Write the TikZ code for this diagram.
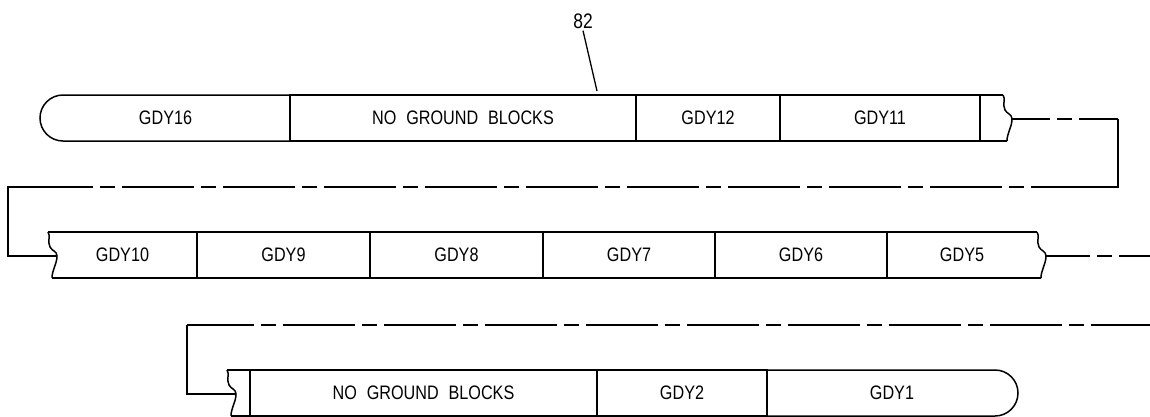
\documentclass[tikz,border=0pt]{standalone}
\usepackage{fontspec}
\newfontfamily\cadfont[FakeStretch=0.83,WordSpace=2.2]{Liberation Sans}
\usetikzlibrary{positioning,shapes.misc}
\tikzset{
  cell/.style={minimum height=46pt,inner sep=0pt,outer sep=0pt,
    font=\cadfont\fontsize{19.5}{20}\selectfont},
  cellbox/.style={cell,draw,line width=1.5pt},
  endcap/.style={cellbox,rounded rectangle},
  bar/.style={line width=1.5pt},
  centerline/.style={line width=1.5pt,dash pattern=on 72pt off 7pt on 15pt off 7pt},
  brk/.pic={
    \draw[bar] (0,0) .. controls (3,4) and (-1,9) .. (2,15)
      .. controls (4,19) and (9,19) .. (9,24)
      .. controls (9,32) and (4,38) .. (4,46);
    \coordinate (-tip) at (9,24);
    \coordinate (-bot) at (4,46);
  }
}
\begin{document}
\begin{tikzpicture}[x=1pt,y=-1pt]
  \useasboundingbox (0,0) rectangle (1150,416);

  % top bar
  \node[endcap,rounded rectangle right arc=none,anchor=west,minimum width=250pt] (t1) at (40,118) {GDY16};
  \node[cellbox,minimum width=346pt,right=0pt of t1] (t2) {NO GROUND BLOCKS};
  \node[cellbox,minimum width=144pt,right=0pt of t2] (t3) {GDY12};
  \node[cellbox,minimum width=200pt,right=0pt of t3] (t4) {GDY11};
  \node[cell,minimum width=23pt,right=0pt of t4] (t5) {};
  \pic (tw) at (t5.north east) {brk};
  \draw[bar] (t4.north east) -- (t5.north east);
  \draw[bar] (t4.south east) -- (tw-bot);

  % middle bar
  \node[cell,anchor=west,minimum width=149pt] (m1) at (48,255) {GDY10};
  \node[cellbox,minimum width=173pt,right=0pt of m1] (m2) {GDY9};
  \node[cellbox,minimum width=173pt,right=0pt of m2] (m3) {GDY8};
  \node[cellbox,minimum width=172pt,right=0pt of m3] (m4) {GDY7};
  \node[cellbox,minimum width=172pt,right=0pt of m4] (m5) {GDY6};
  \node[cell,minimum width=150pt,right=0pt of m5] (m6) {GDY5};
  \pic (mw) at (m1.north west) {brk};
  \pic (me) at (m6.north east) {brk};
  \draw[bar] (m1.north west) -- (m6.north east);
  \draw[bar] (mw-bot) -- (me-bot);

  % bottom bar
  \node[cell,anchor=west,minimum width=23pt] (b1) at (227,393) {};
  \node[cellbox,minimum width=347pt,right=0pt of b1] (b2) {NO GROUND BLOCKS};
  \node[cellbox,minimum width=170pt,right=0pt of b2] (b3) {GDY2};
  \node[endcap,rounded rectangle left arc=none,minimum width=251pt,right=0pt of b3] (b4) {GDY1};
  \pic (bw) at (b1.north west) {brk};
  \draw[bar] (b1.north west) -- (b1.north east);
  \draw[bar] (bw-bot) -- (b1.south east);

  % reference numeral
  \node[font=\cadfont\fontsize{21}{22}\selectfont,inner sep=2pt] (n82) at (583,21) {82};
  \coordinate (n82tip) at (597,91);
  \draw[line width=1.3pt] (n82.south) -- (n82tip);

  % continuation lines
  \coordinate (r1) at (1118,187);
  \coordinate (r1s) at (1096,187);
  \coordinate (l1) at (8,187);
  \coordinate (l1s) at (22,187);
  \coordinate (r2) at (1150,325);
  \coordinate (l2) at (187,325);
  \draw[centerline,dash phase=34pt] (tw-tip) -- (tw-tip -| r1);
  \draw[bar] (tw-tip -| r1) -- (r1) -- (r1s);
  \draw[centerline,dash phase=1pt] (l1s) -- (r1s);
  \draw[bar] (l1s) -- (l1) |- (mw-tip);
  \draw[centerline,dash phase=28pt] (me-tip) -- (me-tip -| r2);
  \draw[centerline,dash phase=5pt] (l2) -- (r2);
  \draw[bar] (l2) |- (bw-tip);
\end{tikzpicture}
\end{document}
